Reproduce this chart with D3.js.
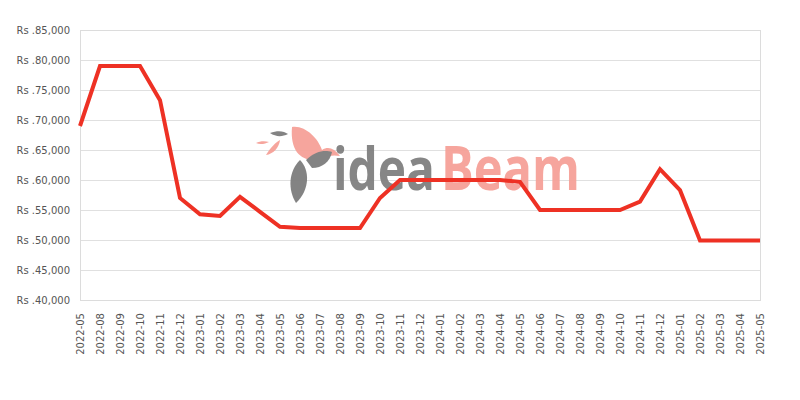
<!DOCTYPE html>
<html><head><meta charset="utf-8">
<script src="https://cdn.jsdelivr.net/npm/d3@7"></script>
<style>body{margin:0;background:#fff}svg{display:block}</style>
</head><body>
<script>
const categories = ["2022-05","2022-08","2022-09","2022-10","2022-11","2022-12","2023-01","2023-02","2023-03","2023-04","2023-05","2023-06","2023-07","2023-08","2023-09","2023-10","2023-11","2023-12","2024-01","2024-02","2024-03","2024-04","2024-05","2024-06","2024-07","2024-08","2024-09","2024-10","2024-11","2024-12","2025-01","2025-02","2025-03","2025-04","2025-05"];
const prices = [69000,79000,79000,79000,73300,57000,54300,54000,57200,54700,52200,52000,52000,52000,52000,57000,60000,60000,60000,60000,60000,60000,59700,55000,55000,55000,55000,55000,56400,61800,58300,49900,49900,49900,49900];
const yTicks = [40000,45000,50000,55000,60000,65000,70000,75000,80000,85000];

const W=800,H=400, m={l:80,r:40,t:30,b:100};
const svg=d3.select("body").append("svg").attr("width",W).attr("height",H);
const x=d3.scalePoint().domain(categories).range([m.l,W-m.r]);
const y=d3.scaleLinear().domain([40000,85000]).range([H-m.b,m.t]);
const fmt=v=>"Rs ."+d3.format(",")(v);

// gridlines
svg.append("g").selectAll("line").data(yTicks).join("line")
  .attr("x1",m.l).attr("x2",W-m.r).attr("y1",d=>y(d)+0.5).attr("y2",d=>y(d)+0.5)
  .attr("stroke","#e0e0e0").attr("stroke-width",1);
svg.append("rect").attr("x",m.l+0.5).attr("y",m.t+0.5).attr("width",W-m.r-m.l).attr("height",H-m.b-m.t)
  .attr("fill","none").attr("stroke","#dcdcdc");

// watermark
const wm=svg.append("g").attr("opacity",0.95);
wm.append("path").attr("d","M292,127 C305,125 318,138 322,150 C328,146 334,148 340,156 C330,154 322,158 314,160 C300,160 290,150 292,127 Z").attr("fill","#f6a198");
wm.append("path").attr("d","M306,160 C316,150 326,150 332,152 C330,162 322,168 312,168 Z").attr("fill","#7d7d7d");
wm.append("path").attr("d","M300,160 C310,170 310,190 296,203 C288,190 288,172 300,160 Z").attr("fill","#7d7d7d");
wm.append("path").attr("d","M270,133 C278,130 284,131 288,134 C282,137 276,137 270,133 Z").attr("fill","#7d7d7d");
wm.append("path").attr("d","M266,155 C270,148 276,142 280,140 C279,148 273,154 266,155 Z").attr("fill","#f6a198");
wm.append("path").attr("d","M256,143 C260,141 265,141 269,142 C265,144 260,145 256,143 Z").attr("fill","#f6a198");
function wmText(str,x0,w,col){
  const t=wm.append("text").attr("font-family","Open Sans, sans-serif").attr("font-weight","700")
    .attr("font-size",60).attr("fill",col).text(str);
  const len=t.node().getComputedTextLength();
  t.attr("transform",`translate(${x0},190) scale(${w/len},1)`);
}
wmText("idea",333,102,"#808080");
wmText("Beam",441,139,"#f6a198");

// y labels
svg.append("g").selectAll("text").data(yTicks).join("text")
  .attr("x",70).attr("y",d=>y(d)).attr("dy","0.35em").attr("text-anchor","end")
  .attr("font-family","DejaVu Sans, sans-serif").attr("font-size",10).attr("fill","#555").text(fmt);

// x labels
svg.append("g").selectAll("text").data(categories).join("text")
  .attr("transform",d=>`translate(${x(d)},${H-m.b+13}) rotate(-90)`).attr("dy","0.35em")
  .attr("text-anchor","end").attr("font-family","DejaVu Sans, sans-serif").attr("font-size",10)
  .attr("fill","#555").text(d=>d);

// line
svg.append("path").datum(prices)
  .attr("d",d3.line().x((d,i)=>x(categories[i])).y(d=>y(d)))
  .attr("fill","none").attr("stroke","#ee3124").attr("stroke-width",4).attr("stroke-linejoin","miter");
</script>
</body></html>
